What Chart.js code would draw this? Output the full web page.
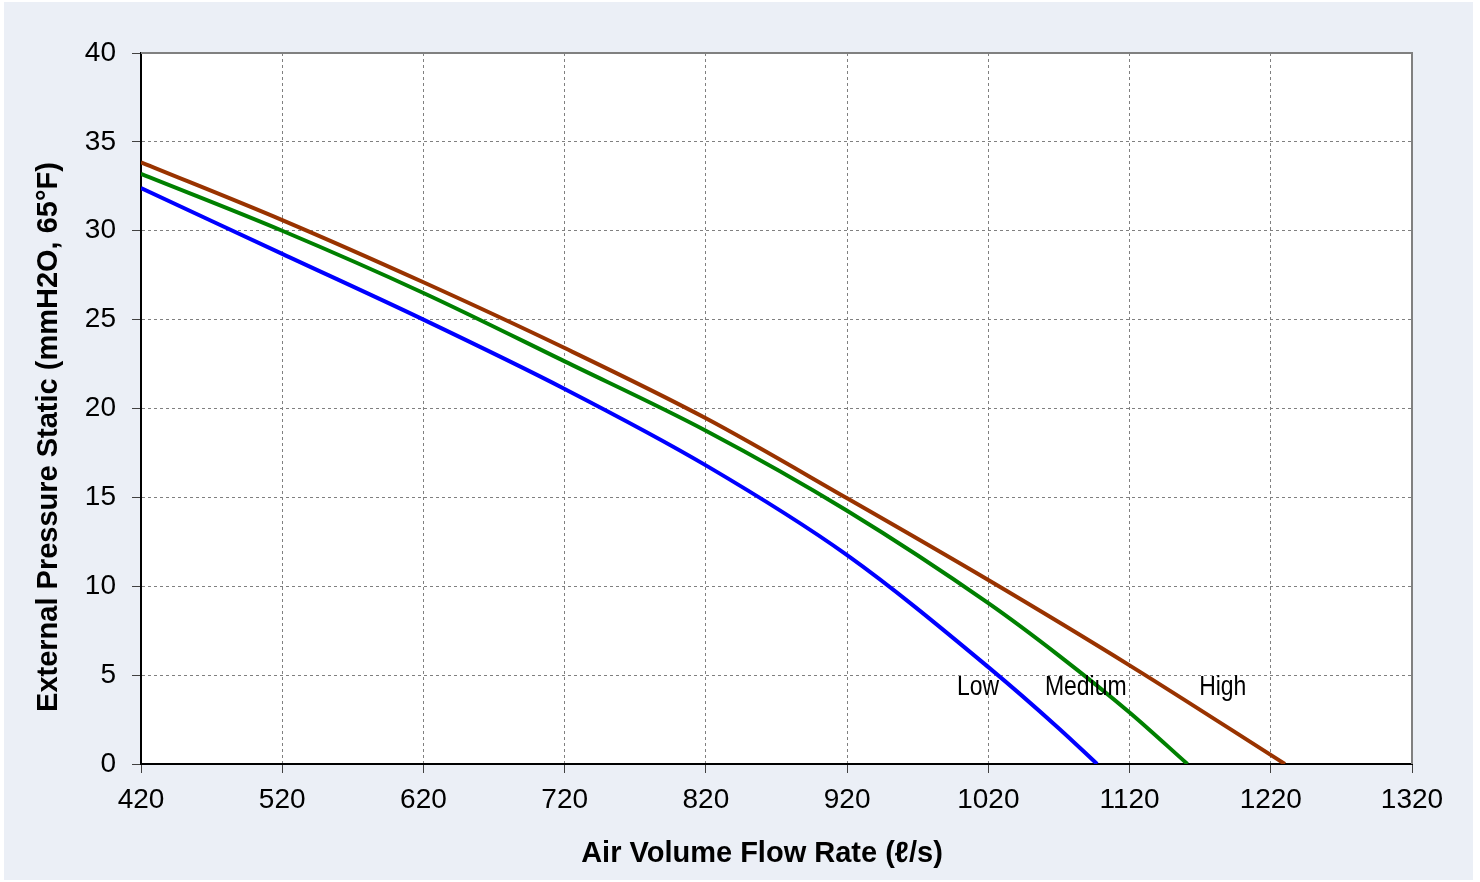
<!DOCTYPE html>
<html>
<head>
<meta charset="utf-8">
<script src="https://cdn.jsdelivr.net/npm/chart.js@4.4.0/dist/chart.umd.min.js"></script>
<style>
  html, body { margin: 0; padding: 0; background: #ffffff; }
  #box { position: absolute; left: 4px; top: 2px; width: 1469px; height: 878px; background: #ebeff6; }
</style>
</head>
<body>
<div id="box"><canvas id="fanCurve"></canvas></div>
<script>
// air flow (l/s) and static pressure (mmH2O)
let lowFlow = [420, 520, 620, 720, 820, 920, 1020, 1070, 1097];
let lowPressure = [32.4, 28.7, 25.0, 21.1, 16.8, 11.75, 5.45, 2.0, 0];
let mediumFlow = [420, 520, 620, 720, 820, 920, 1020, 1070, 1120, 1161];
let mediumPressure = [33.2, 30.0, 26.5, 22.65, 18.75, 14.25, 9.05, 6.1, 2.9, 0];
let highFlow = [420, 520, 620, 720, 820, 920, 1020, 1120, 1230];
let highPressure = [33.85, 30.6, 27.1, 23.4, 19.45, 14.95, 10.35, 5.55, 0];
let xTicks = [420, 520, 620, 720, 820, 920, 1020, 1120, 1220, 1320];
let curveNames = ["Low", "Medium", "High"];
let xTitle = "Air Volume Flow Rate (ℓ/s)";
let yTitle = "External Pressure Static (mmH2O, 65°F)";

// where the speed names sit (flow, pressure)
let nameSpots = [[1012.7, 4.33], [1089, 4.33], [1186, 4.33]];

function toPoints(xs, ys)
{
  let pts = [];
  for (let i = 0; i < xs.length; i++)
  {
    pts.push({x: xs[i], y: ys[i]});
  }
  return pts;
}

let plotBack = {
  id: "plotBack",
  beforeDraw(chart) {
    let c = chart.ctx, a = chart.chartArea;
    c.save();
    c.fillStyle = "#ffffff";
    c.fillRect(a.left, a.top, a.right - a.left, a.bottom - a.top);
    c.restore();
  },
  afterDraw(chart) {
    let c = chart.ctx, a = chart.chartArea;
    c.save();
    // gray frame on top and right
    c.strokeStyle = "#808080";
    c.lineWidth = 2;
    c.beginPath();
    c.moveTo(a.left, a.top);
    c.lineTo(a.right, a.top);
    c.lineTo(a.right, a.bottom);
    c.stroke();
    // axis titles, placed by hand like the original (not centred on the plot)
    c.fillStyle = "#000000";
    c.font = "bold 29px 'Liberation Sans', Arial, sans-serif";
    c.textAlign = "center";
    c.textBaseline = "middle";
    c.fillText(xTitle, 758, 852);
    c.save();
    c.translate(45, 435);
    c.rotate(-Math.PI / 2);
    c.fillText(yTitle, 0, 0);
    c.restore();
    // speed names, narrow lettering
    c.font = "28px 'Liberation Sans', Arial, sans-serif";
    for (let i = 0; i < curveNames.length; i++)
    {
      let px = chart.scales.x.getPixelForValue(nameSpots[i][0]);
      let py = chart.scales.y.getPixelForValue(nameSpots[i][1]);
      c.save();
      c.translate(px, py);
      c.scale(0.82, 1);
      c.fillText(curveNames[i], 0, 0);
      c.restore();
    }
    c.restore();
  }
};

Chart.defaults.font.family = "'Liberation Sans', Arial, sans-serif";
Chart.defaults.color = "#000000";

let ctx = document.getElementById("fanCurve").getContext("2d");
let fanChart = new Chart(ctx, {
  type: "line",
  data: {
    datasets: [
      {label: curveNames[0], data: toPoints(lowFlow, lowPressure), borderColor: "#0000ff"},
      {label: curveNames[1], data: toPoints(mediumFlow, mediumPressure), borderColor: "#008000"},
      {label: curveNames[2], data: toPoints(highFlow, highPressure), borderColor: "#993300"}
    ]
  },
  options: {
    responsive: true,
    maintainAspectRatio: false,
    animation: false,
    layout: {padding: {top: 51, right: 61, left: 0, bottom: 0}},
    elements: {
      line: {borderWidth: 4, cubicInterpolationMode: "monotone", fill: false},
      point: {radius: 0, hoverRadius: 0}
    },
    plugins: {
      legend: {display: false},
      tooltip: {enabled: false}
    },
    scales: {
      x: {
        type: "linear",
        min: 420,
        max: 1320,
        afterBuildTicks: (scale) => { scale.ticks = xTicks.map(v => ({value: v})); },
        afterFit: (scale) => { scale.height = 116; },
        ticks: {font: {size: 28}, padding: 10, maxRotation: 0, autoSkip: false, callback: (v) => String(v)},
        grid: {color: "#808080", lineWidth: 1, tickLength: 9, tickColor: "#404040", tickBorderDash: []},
        border: {color: "#000000", width: 2, dash: [3, 3]},
        title: {display: false}
      },
      y: {
        min: 0,
        max: 40,
        afterFit: (scale) => { scale.width = 137; },
        ticks: {stepSize: 5, font: {size: 28}, padding: 16, callback: (v) => String(v)},
        grid: {color: "#808080", lineWidth: 1, tickLength: 9, tickColor: "#404040", tickBorderDash: []},
        border: {color: "#000000", width: 2, dash: [3, 3]},
        title: {display: false}
      }
    }
  },
  plugins: [plotBack]
});
</script>
</body>
</html>
